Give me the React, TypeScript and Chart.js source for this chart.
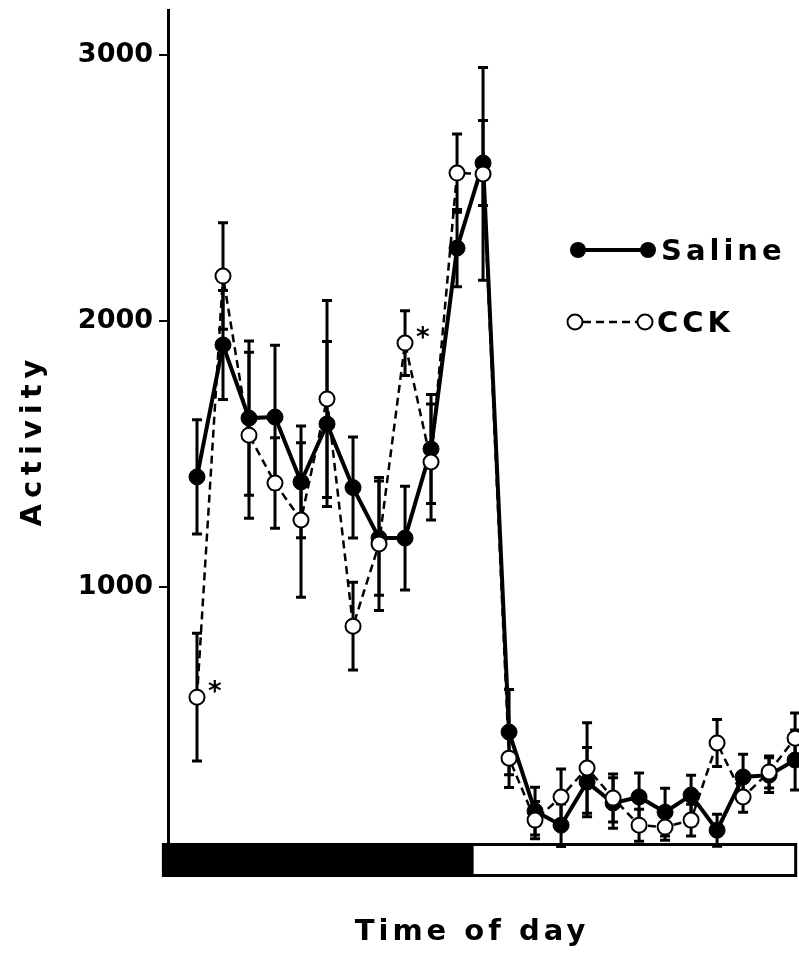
import React, { useEffect, useRef } from "react";
import { Chart, registerables } from "chart.js";

Chart.register(...registerables);

const hours = [1, 2, 3, 4, 5, 6, 7, 8, 9, 10, 11, 12, 13, 14, 15, 16, 17, 18, 19, 20, 21, 22, 23, 24];
const saline = [1414, 1910, 1635, 1639, 1395, 1613, 1374, 1184, 1184, 1519, 2274, 2594, 455, 158, 105, 267, 188, 211, 154, 218, 86, 286, 293, 350];
const salineSem = [215, 205, 290, 270, 210, 310, 190, 215, 195, 205, 145, 160, 160, 90, 80, 130, 95, 90, 90, 75, 60, 86, 65, 113];
const cck = [586, 2169, 1571, 1391, 1252, 1707, 853, 1162, 1917, 1470, 2556, 2553, 357, 124, 211, 320, 207, 105, 98, 124, 414, 211, 305, 432];
const cckSem = [240, 200, 312, 170, 290, 370, 165, 250, 122, 218, 147, 400, 110, 70, 105, 170, 90, 60, 50, 60, 88, 57, 60, 95];
const starIdx = [0, 8];
const yTicks = [1000, 2000, 3000];
// light/dark bar boundaries, in hours
const darkStart = -0.35;
const darkEnd = 11.58;
const lightEnd = 24.08;

const FONT = "'DejaVu Sans', sans-serif";

const extrasPlugin = {
  id: "extras",
  beforeDatasetsDraw(chart: any) {
    const ctx = chart.ctx;
    const xs = chart.scales.x;
    const ys = chart.scales.y;
    const sets = [
      { v: saline, e: salineSem },
      { v: cck, e: cckSem },
    ];
    ctx.save();
    ctx.strokeStyle = "#000";
    ctx.lineWidth = 3;
    sets.forEach((s) => {
      s.v.forEach((v, i) => {
        const x = xs.getPixelForValue(hours[i]);
        const yt = ys.getPixelForValue(v + s.e[i]);
        const yb = ys.getPixelForValue(v - s.e[i]);
        ctx.beginPath();
        ctx.moveTo(x, yt);
        ctx.lineTo(x, yb);
        ctx.moveTo(x - 5, yt);
        ctx.lineTo(x + 5, yt);
        ctx.moveTo(x - 5, yb);
        ctx.lineTo(x + 5, yb);
        ctx.stroke();
      });
    });
    ctx.restore();
  },
  afterDraw(chart: any) {
    const ctx = chart.ctx;
    const xs = chart.scales.x;
    const ys = chart.scales.y;
    const area = chart.chartArea;
    ctx.save();
    // asterisks
    ctx.fillStyle = "#000";
    ctx.font = `bold 26px ${FONT}`;
    ctx.textAlign = "left";
    ctx.textBaseline = "middle";
    starIdx.forEach((i) => {
      const x = xs.getPixelForValue(hours[i]);
      const y = ys.getPixelForValue(cck[i]);
      ctx.fillText("*", x + 11, y - 4);
    });
    // day/night bar
    const x0 = xs.getPixelForValue(darkStart);
    const x1 = xs.getPixelForValue(darkEnd);
    const x2 = xs.getPixelForValue(lightEnd);
    const top = area.bottom;
    const h = 34;
    ctx.fillStyle = "#000";
    ctx.fillRect(x0, top, x1 - x0, h);
    ctx.strokeStyle = "#000";
    ctx.lineWidth = 3;
    ctx.strokeRect(x1, top + 1.5, x2 - x1 - 1.5, h - 3);
    // x title
    ctx.font = `bold 29px ${FONT}`;
    (ctx as any).letterSpacing = "4px";
    ctx.textAlign = "center";
    ctx.textBaseline = "alphabetic";
    ctx.fillText("Time of day", 472, 940);
    // y title
    ctx.save();
    (ctx as any).letterSpacing = "6px";
    ctx.translate(41, 440);
    ctx.rotate(-Math.PI / 2);
    ctx.fillText("Activity", 0, 0);
    ctx.restore();
    // legend
    (ctx as any).letterSpacing = "4px";
    ctx.textAlign = "left";
    ctx.textBaseline = "middle";
    ctx.font = `bold 29px ${FONT}`;
    // Saline
    ctx.lineWidth = 4;
    ctx.setLineDash([]);
    ctx.beginPath();
    ctx.moveTo(578, 250);
    ctx.lineTo(648, 250);
    ctx.stroke();
    [578, 648].forEach((cx) => {
      ctx.beginPath();
      ctx.arc(cx, 250, 8, 0, Math.PI * 2);
      ctx.fill();
    });
    ctx.fillText("Saline", 661, 252);
    // CCK
    ctx.lineWidth = 2.5;
    ctx.setLineDash([8, 5]);
    ctx.beginPath();
    ctx.moveTo(583, 322);
    ctx.lineTo(637, 322);
    ctx.stroke();
    ctx.setLineDash([]);
    ctx.lineWidth = 2;
    [575, 645].forEach((cx) => {
      ctx.beginPath();
      ctx.arc(cx, 322, 7.5, 0, Math.PI * 2);
      ctx.fillStyle = "#fff";
      ctx.fill();
      ctx.stroke();
    });
    ctx.fillStyle = "#000";
    ctx.fillText("CCK", 657, 324);
    ctx.restore();
  },
};

export default function App() {
  const ref = useRef<HTMLCanvasElement>(null);
  useEffect(() => {
    if (!ref.current) return;
    const chart = new Chart(ref.current, {
      type: "line",
      data: {
        labels: hours,
        datasets: [
          {
            label: "CCK",
            data: hours.map((h, i) => ({ x: h, y: cck[i] })),
            borderColor: "#000",
            borderWidth: 2.5,
            borderDash: [8, 5],
            pointRadius: 7.5,
            pointBackgroundColor: "#fff",
            pointBorderColor: "#000",
            pointBorderWidth: 2,
            tension: 0,
            order: 0,
          },
          {
            label: "Saline",
            data: hours.map((h, i) => ({ x: h, y: saline[i] })),
            borderColor: "#000",
            borderWidth: 4,
            pointRadius: 8,
            pointBackgroundColor: "#000",
            pointBorderColor: "#000",
            pointBorderWidth: 1,
            tension: 0,
            order: 1,
          },
        ],
      },
      options: {
        responsive: false,
        animation: false,
        layout: { autoPadding: false, padding: { top: 10, right: 0, bottom: 114, left: 0 } },
        plugins: { legend: { display: false }, tooltip: { enabled: false } },
        scales: {
          x: {
            type: "linear",
            display: false,
            min: -0.115,
            max: 24.15,
          },
          y: {
            type: "linear",
            min: 38,
            max: 3169,
            afterBuildTicks: (scale: any) => {
              scale.ticks = yTicks.map((v) => ({ value: v }));
            },
            afterFit: (scale: any) => {
              scale.width = 168;
              scale.paddingTop = 0;
              scale.paddingBottom = 0;
            },
            border: { display: true, color: "#000", width: 3 },
            grid: {
              drawOnChartArea: false,
              drawTicks: true,
              tickLength: 9,
              color: "#000",
              lineWidth: 2,
            },
            ticks: {
              color: "#000",
              padding: 6,
              font: { family: FONT, size: 27, weight: "bold" },
              callback: (v: any) => String(v),
            },
          },
        },
      },
      plugins: [extrasPlugin],
    });
    return () => chart.destroy();
  }, []);
  return (
    <div style={{ position: "absolute", left: 0, top: 0, width: 799, height: 957 }}>
      <canvas ref={ref} width={799} height={957} style={{ display: "block" }} />
    </div>
  );
}
